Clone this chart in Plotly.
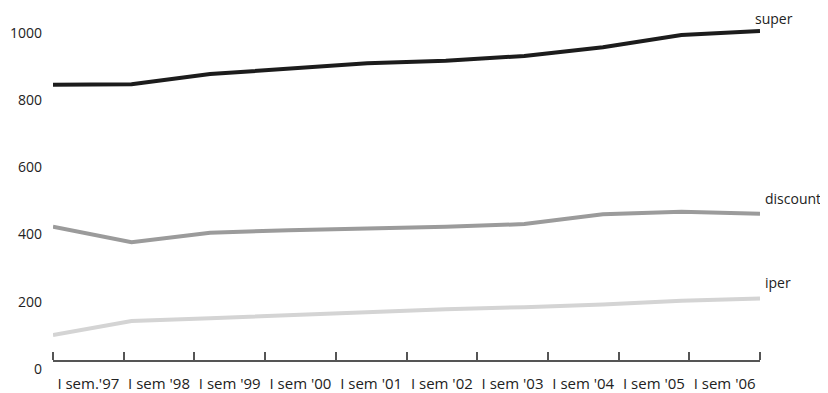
import plotly.graph_objects as go

periods = ["I sem.'97", "I sem '98", "I sem '99", "I sem '00", "I sem '01",
           "I sem '02", "I sem '03", "I sem '04", "I sem '05", "I sem '06"]
super_vals = [845, 847, 877, 893, 909, 917, 931, 957, 993, 1005]
discount_vals = [423, 377, 405, 413, 418, 423, 431, 460, 468, 462]
iper_vals = [101, 143, 151, 160, 169, 178, 184, 192, 203, 210]
y_ticks = [0, 200, 400, 600, 800, 1000]

series = [
    ("super", super_vals, "#1c1c1c", -7, 1),
    ("discount", discount_vals, "#9b9b9b", 3, 4),
    ("iper", iper_vals, "#d4d4d4", 3, 4),
]

n = len(periods)
xs = list(range(n))
span = n - 1
step = span / n
boundaries = [i * step for i in range(n + 1)]
mids = [(i + 0.5) * step for i in range(n)]

fig = go.Figure()
for name, vals, color, x_shift, y_shift in series:
    fig.add_trace(go.Scatter(x=xs, y=vals, mode="lines", name=name,
                             line=dict(color=color, width=4), showlegend=False,
                             hoverinfo="skip"))
    fig.add_annotation(x=xs[-1], y=vals[-1], text=name, showarrow=False,
                       xanchor="left", yanchor="bottom", xshift=x_shift, yshift=y_shift,
                       font=dict(family="Open Sans", size=14, color="#222"))

y_lo, y_hi = -65.4, 1037.9
axis_val = 23.8
fig.update_layout(
    width=828, height=393,
    margin=dict(l=45, r=76, t=12, b=10, autoexpand=False),
    paper_bgcolor="white", plot_bgcolor="white",
    font=dict(family="Open Sans", size=13, color="#222"),
    xaxis=dict(range=[0, span], showgrid=False, zeroline=False, automargin=False,
               anchor="free", position=(axis_val - y_lo) / (y_hi - y_lo),
               showline=True, linecolor="#555", linewidth=1.5,
               tickmode="array", tickvals=mids, ticktext=periods, ticks="",
               ticklabelstandoff=9,
               minor=dict(tickmode="array", tickvals=boundaries, ticks="inside",
                          ticklen=8, tickwidth=1.5, tickcolor="#555", showgrid=False),
               tickfont=dict(family="Open Sans", size=15, color="#222")),
    yaxis=dict(range=[y_lo, y_hi], showgrid=False, zeroline=False, showline=False,
               automargin=False,
               tickmode="array", tickvals=y_ticks, ticks="",
               ticklabelstandoff=10,
               tickfont=dict(family="Open Sans", size=14, color="#222")),
)

fig.write_html("out.html")
